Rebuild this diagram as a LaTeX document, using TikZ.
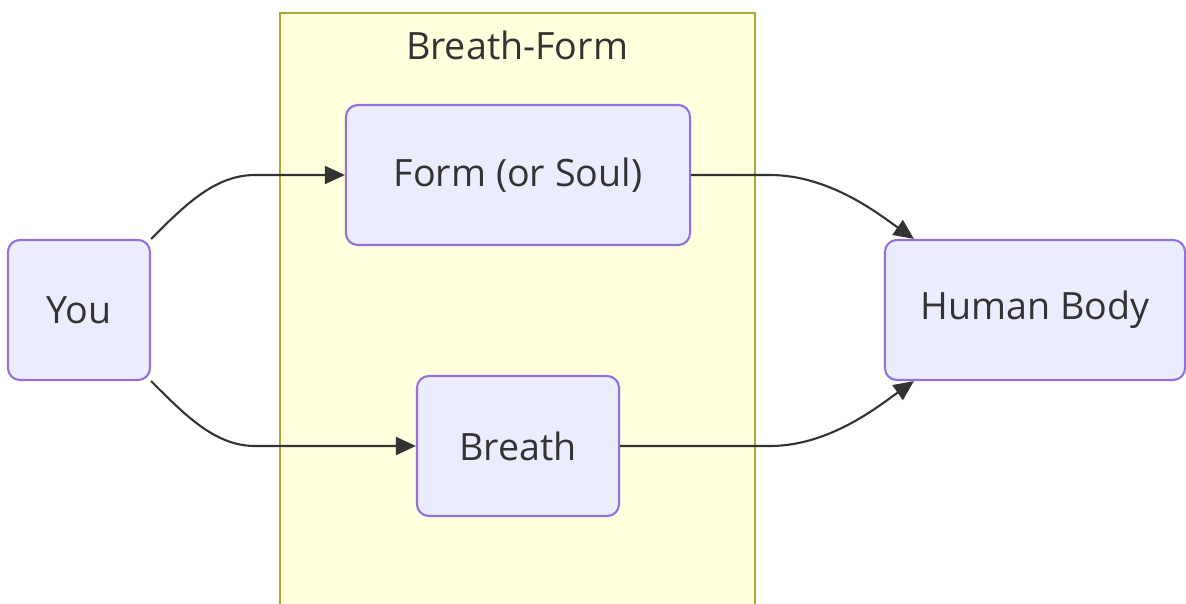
\documentclass[tikz,border=0pt]{standalone}
\usepackage{fontspec}
\setmainfont{Open Sans}
\usetikzlibrary{arrows.meta,positioning}
\definecolor{nodefill}{HTML}{ECECFF}
\definecolor{nodeline}{HTML}{9370DB}
\definecolor{clusterfill}{HTML}{FFFFDE}
\definecolor{clusterline}{HTML}{AAAA33}
\definecolor{textgray}{HTML}{333333}

\begin{document}
\begin{tikzpicture}[
  x=0.01cm, y=-0.01cm,
  box/.style={rectangle, rounded corners=0.12cm, draw=nodeline, fill=nodefill, line width=0.6pt, minimum height=1.4cm, text=textgray, font=\fontsize{10.7}{13}\selectfont},
  cluster/.style={rectangle, draw=clusterline, fill=clusterfill, line width=0.6pt},
  arrow/.style={-{Triangle[length=0.2cm,width=0.18cm]}, draw=textgray, fill=textgray, line width=0.6pt}
]
\clip (0,0) rectangle (1186,603);

% Subgraph
\node[cluster, minimum width=4.75cm, minimum height=6.0cm] (BF) at (517.5,313) {};
\node[text=textgray, font=\fontsize{10.7}{13}\selectfont] (BFtitle) at (517,45) {Breath-Form};

% Nodes
\node[box, minimum width=1.42cm] (You) at (79,310) {You};
\node[box, minimum width=3.44cm] (Form) at (518,175) {Form (or Soul)};
\node[box, minimum width=2.02cm] (Breath) at (518,446) {Breath};
\node[box, minimum width=3.0cm] (Body) at (1035,310) {Human Body};

% Links
\draw[arrow, fill=none] (You.north east) .. controls (185,205) and (215,175) .. (255,175) -- (Form.west);
\draw[arrow, fill=none] (You.south east) .. controls (185,415) and (215,446) .. (255,446) -- (Breath.west);
\draw[arrow, fill=none] (Form.east) -- (770,175) .. controls (830,175) and (880,215) .. ([xshift=0.3cm]Body.north west);
\draw[arrow, fill=none] (Breath.east) -- (770,446) .. controls (830,446) and (880,405) .. ([xshift=0.3cm]Body.south west);

\end{tikzpicture}
\end{document}
